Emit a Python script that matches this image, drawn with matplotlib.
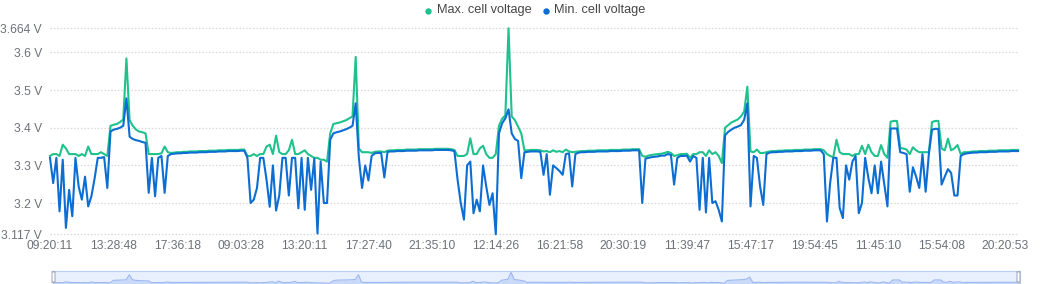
import matplotlib
matplotlib.use("Agg")
import matplotlib.pyplot as plt
import numpy as np
from matplotlib.patches import FancyBboxPatch, Rectangle
from matplotlib.lines import Line2D

# ---------------- data ----------------
series_names = ["Max. cell voltage", "Min. cell voltage"]

tick_labels = ["09:20:11", "13:28:48", "17:36:18", "09:03:28", "13:20:11", "17:27:40",
               "21:35:10", "12:14:26", "16:21:58", "20:30:19", "11:39:47", "15:47:17",
               "19:54:45", "11:45:10", "15:54:08", "20:20:53"]
tick_step = 20

y_ticks = [3.117, 3.2, 3.3, 3.4, 3.5, 3.6, 3.664]
y_tick_labels = ["3.117 V", "3.2 V", "3.3 V", "3.4 V", "3.5 V", "3.6 V", "3.664 V"]

max_cell_voltage = [
    3.325, 3.330, 3.330, 3.325, 3.355, 3.345, 3.330, 3.330, 3.330, 3.325,
    3.330, 3.325, 3.350, 3.330, 3.330, 3.330, 3.335, 3.330, 3.325, 3.405,
    3.408, 3.410, 3.415, 3.422, 3.584, 3.420, 3.405, 3.395, 3.390, 3.388,
    3.385, 3.330, 3.330, 3.330, 3.330, 3.332, 3.350, 3.335,
    3.333, 3.334, 3.335, 3.335, 3.336, 3.336, 3.337, 3.337, 3.337, 3.338,
    3.338, 3.338, 3.339, 3.339, 3.339, 3.340, 3.340, 3.340, 3.341, 3.341,
    3.341, 3.341, 3.342, 3.342,
    3.325, 3.325, 3.330, 3.325, 3.330, 3.330, 3.350, 3.355, 3.330, 3.379,
    3.335, 3.330, 3.330, 3.340, 3.368, 3.330, 3.330, 3.335, 3.340, 3.330,
    3.325, 3.320, 3.320, 3.315, 3.315, 3.310,
    3.385, 3.410, 3.412, 3.414, 3.417, 3.420, 3.425, 3.430, 3.588, 3.345,
    3.335, 3.335, 3.335, 3.333, 3.336, 3.337, 3.337, 3.335,
    3.339, 3.340, 3.340, 3.341, 3.341, 3.341, 3.342, 3.342, 3.342, 3.342,
    3.343, 3.343, 3.343, 3.343, 3.343, 3.344, 3.344, 3.344, 3.344, 3.344,
    3.343, 3.341,
    3.325, 3.325, 3.325, 3.330, 3.372, 3.330, 3.330, 3.345, 3.352, 3.330,
    3.320, 3.320, 3.330, 3.405, 3.424, 3.433, 3.664, 3.430, 3.420, 3.403,
    3.385, 3.340, 3.340, 3.341, 3.341, 3.341, 3.340, 3.337, 3.338, 3.335,
    3.340, 3.336, 3.338, 3.335, 3.342, 3.337, 3.335, 3.336,
    3.337, 3.338, 3.338, 3.339, 3.339, 3.339, 3.340, 3.340, 3.340, 3.340,
    3.341, 3.341, 3.341, 3.341, 3.342, 3.342, 3.342, 3.343, 3.343, 3.343,
    3.325, 3.323, 3.326, 3.328, 3.329, 3.330, 3.331, 3.333, 3.336, 3.333,
    3.325, 3.327, 3.330, 3.330, 3.331, 3.320, 3.330, 3.330, 3.335, 3.335,
    3.325, 3.340, 3.330, 3.335, 3.325, 3.306,
    3.400, 3.407, 3.414, 3.418, 3.422, 3.430, 3.443, 3.509, 3.337, 3.335,
    3.342, 3.333, 3.333, 3.335,
    3.337, 3.338, 3.338, 3.339, 3.339, 3.340, 3.340, 3.340, 3.341, 3.341,
    3.341, 3.342, 3.342, 3.342, 3.343, 3.343, 3.343,
    3.340, 3.330, 3.325, 3.322, 3.368, 3.335, 3.330, 3.330, 3.330, 3.325,
    3.330, 3.330, 3.352, 3.330, 3.355, 3.335, 3.325, 3.325, 3.354, 3.330,
    3.320, 3.416, 3.418, 3.418, 3.346, 3.345, 3.342, 3.330, 3.348, 3.340,
    3.335, 3.335, 3.335, 3.335, 3.415, 3.418, 3.418, 3.345, 3.340, 3.371,
    3.340, 3.345, 3.354, 3.330, 3.335,
    3.335, 3.336, 3.337, 3.337, 3.338, 3.338, 3.338, 3.339, 3.339, 3.339,
    3.340, 3.340, 3.340, 3.340, 3.341, 3.341, 3.341,
]

min_cell_voltage = [
    3.320, 3.253, 3.320, 3.178, 3.315, 3.134, 3.235, 3.165, 3.320, 3.244,
    3.209, 3.270, 3.191, 3.218, 3.265, 3.320, 3.320, 3.322, 3.240, 3.390,
    3.395, 3.397, 3.400, 3.405, 3.478, 3.376, 3.370, 3.367, 3.365, 3.362,
    3.360, 3.227, 3.320, 3.218, 3.320, 3.325, 3.227, 3.325,
    3.330, 3.331, 3.332, 3.332, 3.333, 3.333, 3.334, 3.334, 3.334, 3.335,
    3.335, 3.335, 3.336, 3.336, 3.336, 3.337, 3.337, 3.337, 3.338, 3.338,
    3.338, 3.338, 3.339, 3.339,
    3.320, 3.200, 3.209, 3.240, 3.320, 3.320, 3.262, 3.190, 3.300, 3.180,
    3.220, 3.320, 3.320, 3.220, 3.320, 3.320, 3.186, 3.320, 3.182, 3.320,
    3.235, 3.318, 3.119, 3.310, 3.200, 3.200,
    3.368, 3.385, 3.388, 3.390, 3.393, 3.396, 3.400, 3.405, 3.465, 3.320,
    3.240, 3.300, 3.260, 3.325, 3.332, 3.333, 3.333, 3.268,
    3.336, 3.337, 3.337, 3.338, 3.338, 3.338, 3.339, 3.339, 3.339, 3.339,
    3.340, 3.340, 3.340, 3.340, 3.340, 3.341, 3.341, 3.341, 3.341, 3.341,
    3.340, 3.338,
    3.262, 3.200, 3.156, 3.300, 3.310, 3.173, 3.209, 3.178, 3.300, 3.244,
    3.195, 3.226, 3.117, 3.385, 3.412, 3.425, 3.449, 3.385, 3.370, 3.365,
    3.266, 3.335, 3.336, 3.337, 3.337, 3.337, 3.336, 3.275, 3.330, 3.222,
    3.300, 3.293, 3.285, 3.275, 3.330, 3.332, 3.244, 3.330,
    3.334, 3.335, 3.335, 3.336, 3.336, 3.336, 3.337, 3.337, 3.337, 3.337,
    3.338, 3.338, 3.338, 3.338, 3.339, 3.339, 3.339, 3.340, 3.340, 3.340,
    3.200, 3.318, 3.320, 3.322, 3.323, 3.324, 3.326, 3.326, 3.330, 3.328,
    3.249, 3.320, 3.325, 3.325, 3.326, 3.310, 3.325, 3.320, 3.182, 3.320,
    3.175, 3.320, 3.200, 3.205, 3.182, 3.151,
    3.380, 3.389, 3.395, 3.400, 3.403, 3.407, 3.421, 3.465, 3.191, 3.325,
    3.320, 3.244, 3.195, 3.330,
    3.334, 3.335, 3.335, 3.336, 3.336, 3.337, 3.337, 3.337, 3.338, 3.338,
    3.338, 3.339, 3.339, 3.339, 3.340, 3.340, 3.340,
    3.330, 3.151, 3.253, 3.320, 3.320, 3.187, 3.160, 3.300, 3.262, 3.310,
    3.325, 3.173, 3.200, 3.320, 3.267, 3.226, 3.300, 3.226, 3.310, 3.250,
    3.191, 3.398, 3.398, 3.398, 3.335, 3.333, 3.330, 3.230, 3.295, 3.270,
    3.240, 3.330, 3.230, 3.330, 3.395, 3.397, 3.397, 3.249, 3.270, 3.290,
    3.280, 3.220, 3.220, 3.325, 3.330,
    3.332, 3.333, 3.334, 3.334, 3.335, 3.335, 3.335, 3.336, 3.336, 3.336,
    3.337, 3.337, 3.337, 3.337, 3.338, 3.338, 3.338,
]

GREEN = "#1fc28c"
BLUE = "#0c6dd3"

# ---------------- figure ----------------
W, H = 1050, 284
fig = plt.figure(figsize=(W / 100, H / 100), dpi=100)
fig.patch.set_facecolor("white")

n = min(len(max_cell_voltage), len(min_cell_voltage))
x = np.arange(n)

ax = fig.add_axes([50 / W, 1 - 234.3 / H, 968 / W, 206 / H])
for t in y_ticks:
    ax.axhline(t, color="#d9d9d9", lw=0.9, ls=(0, (1.2, 1.5)), zorder=1, clip_on=False)

ax.plot(x, max_cell_voltage[:n], color=GREEN, lw=1.5, zorder=3, clip_on=False,
        solid_joinstyle="round")
ax.plot(x, min_cell_voltage[:n], color=BLUE, lw=1.5, zorder=4, clip_on=False,
        solid_joinstyle="round")

ax.set_xlim(0, n - 1)
ax.set_ylim(y_ticks[0], y_ticks[-1])
ax.set_yticks(y_ticks)
ax.set_yticklabels(y_tick_labels)
ax.set_xticks([i * tick_step for i in range(len(tick_labels))])
ax.set_xticklabels(tick_labels)
for s in ax.spines.values():
    s.set_visible(False)
ax.tick_params(axis="y", length=0, pad=5.8, labelsize=8.64, labelcolor="#6e7079")
ax.tick_params(axis="x", length=0, pad=4.0, labelsize=8.64, labelcolor="#6e7079")
for lab in ax.get_xticklabels() + ax.get_yticklabels():
    lab.set_fontfamily("Liberation Sans")

# ---------------- legend ----------------
leg_y = 1 - 10.5 / H
fig.add_artist(Line2D([428 / W], [leg_y], marker="o", markersize=4.6, color=GREEN,
                      markeredgewidth=0, transform=fig.transFigure))
fig.text(437 / W, leg_y, series_names[0], fontsize=9.2, color="#464646",
         family="Liberation Sans", va="center", ha="left")
fig.add_artist(Line2D([546 / W], [leg_y], marker="o", markersize=4.6, color=BLUE,
                      markeredgewidth=0, transform=fig.transFigure))
fig.text(554 / W, leg_y, series_names[1], fontsize=9.2, color="#464646",
         family="Liberation Sans", va="center", ha="left")

# ---------------- data zoom slider ----------------
sl = fig.add_axes([53 / W, 1 - 283.5 / H, 967 / W, 13 / H])
sl.set_facecolor("#e8effd")
sl.set_xlim(0, n - 1)
lo = min(max_cell_voltage) - 0.005
hi = max(max_cell_voltage) + 0.06
sl.set_ylim(lo, hi)
sl.fill_between(x, lo, max_cell_voltage[:n], color="#c9d9f8", lw=0, zorder=2)
sl.plot(x, max_cell_voltage[:n], color="#9db8f2", lw=0.8, zorder=3)
sl.set_xticks([])
sl.set_yticks([])
for s in sl.spines.values():
    s.set_color("#b9cbf3")
    s.set_linewidth(0.8)

for hx in (52, 1017):
    fig.add_artist(FancyBboxPatch((hx / W, 1 - 282.5 / H), 3 / W, 11 / H,
                                  boxstyle="round,pad=0,rounding_size=0.003",
                                  transform=fig.transFigure, facecolor="white",
                                  edgecolor="#a7b0bf", lw=0.8, zorder=10))

fig.savefig("out.png", dpi=100, facecolor="white")
